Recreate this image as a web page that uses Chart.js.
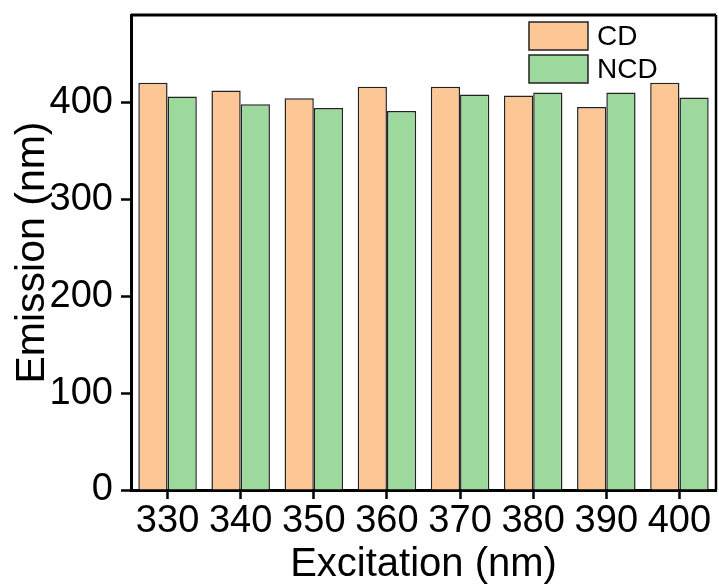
<!DOCTYPE html>
<html>
<head>
<meta charset="utf-8">
<title>Emission vs Excitation</title>
<script src="https://cdn.jsdelivr.net/npm/chart.js@4.4.1/dist/chart.umd.min.js"></script>
<style>
  html, body { margin: 0; padding: 0; background: #fff; }
  #wrap { width: 719px; height: 585px; position: relative; }
</style>
</head>
<body>
<div id="wrap"><canvas id="chart"></canvas></div>
<script>
// Excitation wavelengths (nm) and peak emission wavelengths (nm)
const excitation = ['330', '340', '350', '360', '370', '380', '390', '400'];
const cdEmission = [420, 412, 404, 416, 416, 407, 395, 420];
const ncdEmission = [406, 398, 394, 391, 408, 410, 410, 405];
const yTickValues = [0, 100, 200, 300, 400];

const FONT = '"Liberation Sans", Arial, Helvetica, sans-serif';

// Closes the plot box (top + right edges) and draws the legend inside it
const frameAndLegend = {
  id: 'frameAndLegend',
  afterDraw(chart) {
    const { ctx, chartArea: a } = chart;
    ctx.save();
    ctx.strokeStyle = '#000';
    ctx.lineWidth = 3;
    ctx.beginPath();
    ctx.moveTo(a.left, a.top);
    ctx.lineTo(a.right, a.top);
    ctx.stroke();
    ctx.lineWidth = 2.5;
    ctx.beginPath();
    ctx.moveTo(a.right, a.top);
    ctx.lineTo(a.right, a.bottom);
    ctx.stroke();

    const boxX = 529, boxW = 59, boxH = 28;
    const rows = [22, 55];
    ctx.font = '28px ' + FONT;
    ctx.textBaseline = 'middle';
    ctx.textAlign = 'left';
    chart.data.datasets.forEach((ds, i) => {
      const y = rows[i];
      ctx.fillStyle = ds.backgroundColor;
      ctx.fillRect(boxX, y, boxW, boxH);
      ctx.strokeStyle = '#222';
      ctx.lineWidth = 1.5;
      ctx.strokeRect(boxX, y, boxW, boxH);
      ctx.fillStyle = '#000';
      ctx.fillText(ds.label, boxX + 68, y + boxH / 2 + 1);
    });
    ctx.restore();
  }
};

new Chart(document.getElementById('chart'), {
  type: 'bar',
  data: {
    labels: excitation,
    datasets: [
      {
        label: 'CD',
        data: cdEmission,
        backgroundColor: '#FCC795',
        borderColor: '#222',
        borderWidth: 1.5,
        borderSkipped: 'bottom'
      },
      {
        label: 'NCD',
        data: ncdEmission,
        backgroundColor: '#9DD89C',
        borderColor: '#222',
        borderWidth: 1.5,
        borderSkipped: 'bottom'
      }
    ]
  },
  options: {
    responsive: true,
    maintainAspectRatio: false,
    animation: false,
    devicePixelRatio: 1,
    layout: { padding: { top: 15, right: 3, left: 0, bottom: 0 } },
    datasets: {
      bar: { categoryPercentage: 0.8, barPercentage: 1.0 }
    },
    plugins: {
      legend: { display: false },
      tooltip: { enabled: false }
    },
    scales: {
      x: {
        offset: true,
        afterFit(s) {
          s.height = 95;
          s.paddingLeft = 0;
          s.paddingRight = 0;
        },
        grid: {
          offset: false,
          drawOnChartArea: false,
          drawTicks: true,
          tickLength: 9,
          tickWidth: 2.5,
          tickColor: '#000'
        },
        border: { display: true, color: '#000', width: 3 },
        ticks: {
          color: '#000',
          font: { family: FONT, size: 38 },
          padding: 0,
          maxRotation: 0,
          autoSkip: false
        },
        title: {
          display: true,
          text: 'Excitation (nm)',
          color: '#000',
          font: { family: FONT, size: 40, lineHeight: 1.0 },
          padding: { top: 0, bottom: 0 }
        }
      },
      y: {
        min: 0,
        max: 490,
        afterFit(s) {
          s.width = 131;
          s.paddingTop = 0;
          s.paddingBottom = 0;
        },
        afterBuildTicks(s) {
          s.ticks = yTickValues.map(v => ({ value: v }));
        },
        grid: {
          drawOnChartArea: false,
          drawTicks: true,
          tickLength: 10,
          tickWidth: 2.5,
          tickColor: '#000'
        },
        border: { display: true, color: '#000', width: 3 },
        ticks: {
          color: '#000',
          font: { family: FONT, size: 38 },
          padding: 8
        },
        title: {
          display: true,
          text: 'Emission (nm)',
          color: '#000',
          font: { family: FONT, size: 41, lineHeight: 1.0 },
          padding: { top: 12, bottom: 0 }
        }
      }
    }
  },
  plugins: [frameAndLegend]
});
</script>
</body>
</html>
